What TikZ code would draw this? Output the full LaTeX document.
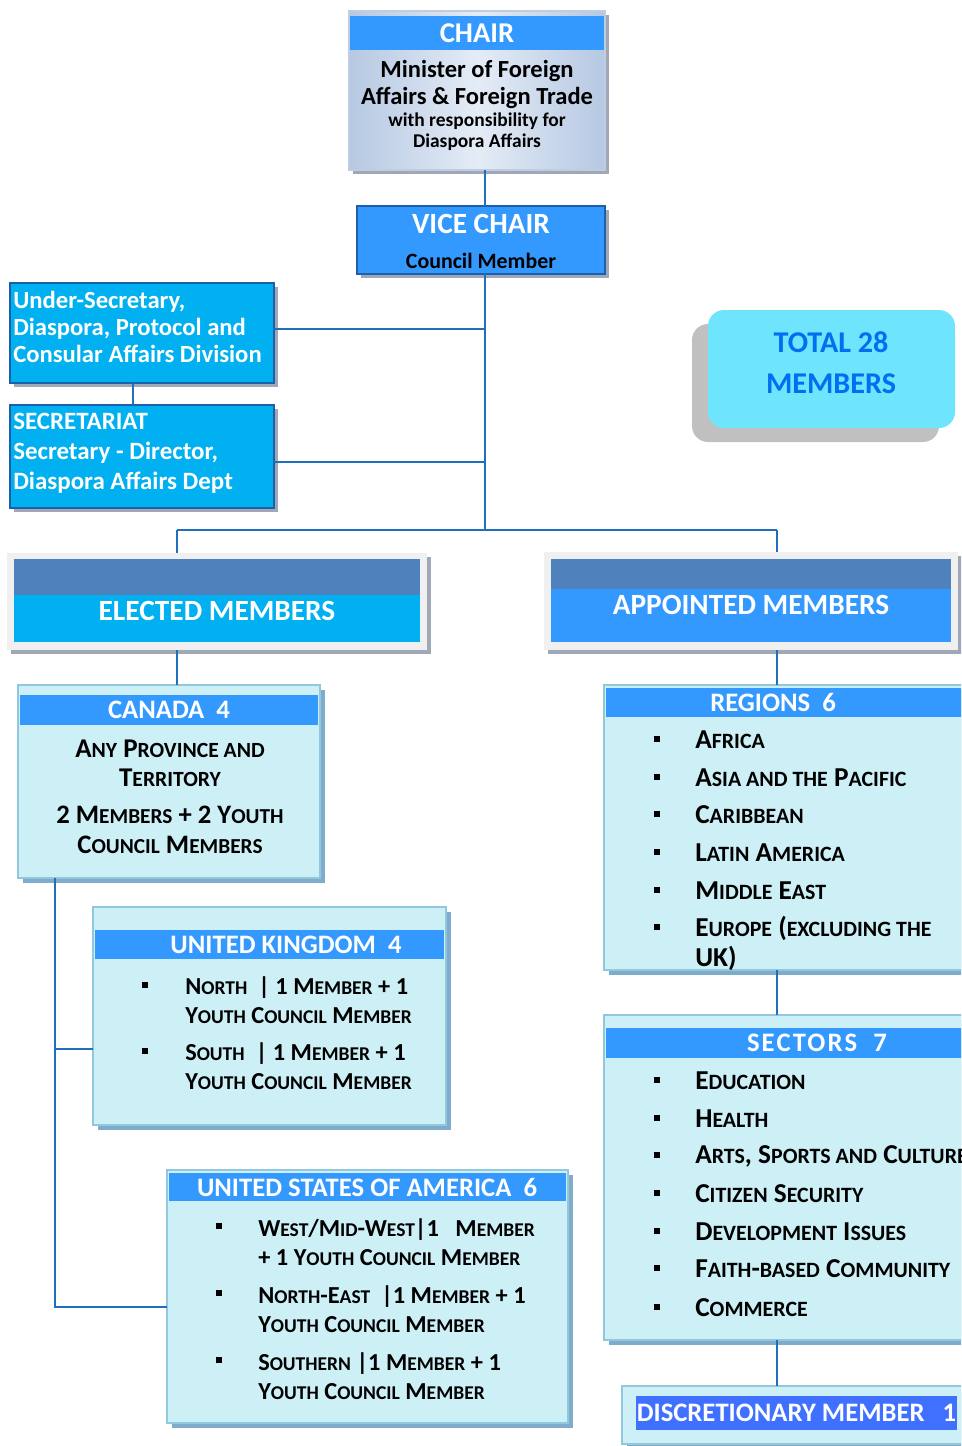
\documentclass[tikz,border=0pt]{standalone}
\usepackage{fontspec}
\setmainfont{Carlito}
\usepackage{xcolor}
\definecolor{headblue}{RGB}{51,153,255}
\definecolor{skyblue}{RGB}{0,176,240}
\definecolor{paleblue}{RGB}{205,240,247}
\definecolor{paleedge}{RGB}{146,200,222}
\definecolor{paleshadow}{RGB}{128,172,204}
\definecolor{steelband}{RGB}{79,129,189}
\definecolor{linkblue}{RGB}{31,111,191}
\definecolor{darkedge}{RGB}{30,95,170}
\definecolor{boxshadow}{RGB}{160,168,184}
\definecolor{totalfill}{RGB}{111,228,253}
\definecolor{totaltext}{RGB}{0,112,240}
\definecolor{totalshadow}{RGB}{192,192,192}
\definecolor{discblue}{RGB}{64,112,255}
\definecolor{chairlight}{RGB}{228,236,246}
\definecolor{chairdark}{RGB}{182,200,226}
\definecolor{chairedge}{RGB}{190,205,225}
\definecolor{framegray}{RGB}{240,240,240}
\usepackage{tikz}
\usetikzlibrary{shadows}
\makeatletter
\newcommand{\lowcap}[1]{{\fontsize{\dimexpr 0.8\dimexpr\f@size pt\relax\relax}{\f@baselineskip}\selectfont #1}}
\makeatother
\newcommand{\boxfont}[2]{\fontsize{#1}{#2}\selectfont\bfseries}
\newcommand{\pix}[1]{#1*0.75pt}
\tikzset{
    common/.style={anchor=north west, inner sep=0pt, outer sep=0pt},
    box-shadow/.style={drop shadow={shadow xshift=3pt, shadow yshift=-3pt, fill=boxshadow, opacity=1}},
    dark-box/.style={common, fill=#1, draw=darkedge, line width=1.5pt, box-shadow},
    pale-box/.style={common, fill=paleblue, draw=paleedge, line width=1.5pt,
        drop shadow={shadow xshift=3.5pt, shadow yshift=-3.5pt, fill=paleshadow, opacity=1}},
    band/.style={common, fill=#1},
    head/.style={text=white, inner sep=0pt, font=\boxfont{20pt}{24pt}},
    item/.style={anchor=west, align=left, inner sep=0pt, font=\boxfont{20.5pt}{22.5pt}},
    entry/.style={item, font=\boxfont{18.3pt}{21.75pt}},
    bullet/.style={fill=black, inner sep=0pt, minimum size=4.5pt},
    link/.style={draw=linkblue, line width=1.5pt}
}

\begin{document}
\begin{tikzpicture}[x=0.75pt, y=-0.75pt]
    \useasboundingbox (0,0) rectangle (961,1446);
    \clip (0,0) rectangle (961,1446);

    % chair
    \node[common, minimum width={\pix{256}}, minimum height={\pix{159}}, left color=chairdark, right color=chairdark,
        middle color=chairlight, draw=chairedge, line width=1.5pt, box-shadow] (chair) at (349,11) {};
    \node[band=headblue, minimum width={\pix{254}}, minimum height={\pix{34}}] (chair-band) at (350,16) {};
    \node[head, font=\boxfont{21.5pt}{24pt}] (chair-title) at (chair-band.center) {CHAIR};
    \node[align=center, inner sep=0pt, font=\boxfont{18.4pt}{20.25pt}] (chair-name) at (477,84) {Minister of Foreign\\Affairs \& Foreign Trade};
    \node[align=center, inner sep=0pt, font=\boxfont{14.6pt}{15.75pt}] (chair-note) at (477,132) {with responsibility for\\Diaspora Affairs};

    % vice chair
    \node[dark-box=headblue, minimum width={\pix{248}}, minimum height={\pix{68}}] (vice) at (357,206) {};
    \node[head, font=\boxfont{22pt}{24pt}] (vice-title) at (481,224) {VICE CHAIR};
    \node[inner sep=0pt, font=\boxfont{16.4pt}{18pt}] (vice-name) at (481,261) {Council Member};

    % under-secretary and secretariat
    \node[dark-box=skyblue, minimum width={\pix{264}}, minimum height={\pix{100}}] (usec) at (10,283) {};
    \node[item, text=white, font=\boxfont{18.5pt}{20.25pt}] (usec-text) at (13,327) {Under-Secretary,\\Diaspora, Protocol and\\Consular Affairs Division};
    \node[dark-box=skyblue, minimum width={\pix{264}}, minimum height={\pix{103}}] (secr) at (10,405) {};
    \node[item, text=white, font=\boxfont{18.7pt}{22.5pt}] (secr-text) at (13,453) {SECRETARIAT\\Secretary - Director,\\Diaspora Affairs Dept};

    % total
    \node[common, minimum width={\pix{247}}, minimum height={\pix{118}}, rounded corners=12pt, fill=totalfill,
        drop shadow={shadow xshift=-12pt, shadow yshift=-10.5pt, fill=totalshadow, opacity=1}] (total) at (708,310) {};
    \node[align=center, inner sep=0pt, text=totaltext, font=\boxfont{22.6pt}{30.75pt}] (total-text) at (831,363) {TOTAL 28\\MEMBERS};

    % elected and appointed
    \node[common, fill=framegray, minimum width={\pix{420}}, minimum height={\pix{97}}, box-shadow] (elected) at (7,553) {};
    \node[band=steelband, minimum width={\pix{406}}, minimum height={\pix{36}}] (elected-top) at (14,559) {};
    \node[band=skyblue, minimum width={\pix{406}}, minimum height={\pix{47}}] (elected-low) at (14,595) {};
    \node[head, font=\boxfont{22pt}{24pt}] (elected-title) at (217,611) {ELECTED MEMBERS};
    \node[common, fill=framegray, minimum width={\pix{414}}, minimum height={\pix{98}}, box-shadow] (appointed) at (544,552) {};
    \node[band=steelband, minimum width={\pix{400}}, minimum height={\pix{30}}] (appointed-top) at (551,559) {};
    \node[band=headblue, minimum width={\pix{400}}, minimum height={\pix{53}}] (appointed-low) at (551,589) {};
    \node[head, font=\boxfont{22pt}{24pt}] (appointed-title) at (751,605) {APPOINTED MEMBERS};

    % canada
    \node[pale-box, minimum width={\pix{302}}, minimum height={\pix{193}}] (canada) at (18,685) {};
    \node[band=headblue, minimum width={\pix{298}}, minimum height={\pix{30}}] (canada-band) at (20,695) {};
    \node[head] (canada-title) at (169,710) {CANADA\ \ 4};
    \node[align=center, inner sep=0pt, font=\boxfont{20.3pt}{21.75pt}] (canada-area) at (170,763) {A\lowcap{NY} P\lowcap{ROVINCE AND}\\T\lowcap{ERRITORY}};
    \node[align=center, inner sep=0pt, font=\boxfont{20pt}{22.5pt}] (canada-count) at (170,830) {2 M\lowcap{EMBERS} + 2 Y\lowcap{OUTH}\\C\lowcap{OUNCIL} M\lowcap{EMBERS}};

    % united kingdom
    \node[pale-box, minimum width={\pix{353}}, minimum height={\pix{218}}] (uk) at (93,907) {};
    \node[band=headblue, minimum width={\pix{349}}, minimum height={\pix{29}}] (uk-band) at (95,930) {};
    \node[head] (uk-title) at (286,945) {UNITED KINGDOM\ \ 4};
    \path (145,985) node[bullet] (north-dot) {}
          (185,1000) node[entry] (north) {N\lowcap{ORTH}\ \ | 1 M\lowcap{EMBER} + 1\\Y\lowcap{OUTH} C\lowcap{OUNCIL} M\lowcap{EMBER}}
          (145,1051) node[bullet] (south-dot) {}
          (185,1066) node[entry] (south) {S\lowcap{OUTH}\ \ | 1 M\lowcap{EMBER} + 1\\Y\lowcap{OUTH} C\lowcap{OUNCIL} M\lowcap{EMBER}};

    % united states
    \node[pale-box, minimum width={\pix{401}}, minimum height={\pix{253}}] (usa) at (167,1170) {};
    \node[band=headblue, minimum width={\pix{397}}, minimum height={\pix{28}}] (usa-band) at (169,1173) {};
    \node[head] (usa-title) at (367,1187) {UNITED STATES OF AMERICA\ \ 6};
    \path (219,1226) node[bullet] (west-dot) {}
          (258,1242) node[entry] (west) {W\lowcap{EST}/M\lowcap{ID}-W\lowcap{EST}|1\ \ \ M\lowcap{EMBER}\\+ 1 Y\lowcap{OUTH} C\lowcap{OUNCIL} M\lowcap{EMBER}}
          (219,1293) node[bullet] (east-dot) {}
          (258,1309) node[entry] (east) {N\lowcap{ORTH}-E\lowcap{AST}\ \ |1 M\lowcap{EMBER} + 1\\Y\lowcap{OUTH} C\lowcap{OUNCIL} M\lowcap{EMBER}}
          (219,1360) node[bullet] (southern-dot) {}
          (258,1376) node[entry] (southern) {S\lowcap{OUTHERN} |1 M\lowcap{EMBER} + 1\\Y\lowcap{OUTH} C\lowcap{OUNCIL} M\lowcap{EMBER}};

    % regions
    \node[pale-box, minimum width={\pix{380}}, minimum height={\pix{285}}] (regions) at (604,685) {};
    \node[band=headblue, minimum width={\pix{380}}, minimum height={\pix{29}}] (regions-band) at (606,688) {};
    \node[head] (regions-title) at (773,702) {REGIONS\ \ 6};
    \path (657,739) node[bullet] (africa-dot) {} +(38,1) node[item] (africa) {A\lowcap{FRICA}}
          (657,777) node[bullet] (asia-dot) {} +(38,1) node[item] (asia) {A\lowcap{SIA AND THE} P\lowcap{ACIFIC}}
          (657,814) node[bullet] (caribbean-dot) {} +(38,1) node[item] (caribbean) {C\lowcap{ARIBBEAN}}
          (657,852) node[bullet] (latin-dot) {} +(38,1) node[item] (latin) {L\lowcap{ATIN} A\lowcap{MERICA}}
          (657,890) node[bullet] (mideast-dot) {} +(38,1) node[item] (mideast) {M\lowcap{IDDLE} E\lowcap{AST}}
          (657,927) node[bullet] (europe-dot) {} +(38,16) node[item] (europe) {E\lowcap{UROPE} (\lowcap{EXCLUDING THE}\\UK)};

    % sectors
    \node[pale-box, minimum width={\pix{380}}, minimum height={\pix{325}}] (sectors) at (604,1015) {};
    \node[band=headblue, minimum width={\pix{380}}, minimum height={\pix{30}}] (sectors-band) at (606,1028) {};
    \node[head, font=\boxfont{20pt}{24pt}\addfontfeature{LetterSpace=8}] (sectors-title) at (817,1043) {SECTORS\ \ 7};
    \path (657,1080) node[bullet] (education-dot) {} +(38,1) node[item] (education) {E\lowcap{DUCATION}}
          (657,1118) node[bullet] (health-dot) {} +(38,1) node[item] (health) {H\lowcap{EALTH}}
          (657,1155) node[bullet] (arts-dot) {} +(38,1) node[item] (arts) {A\lowcap{RTS}, S\lowcap{PORTS AND} C\lowcap{ULTURE}}
          (657,1193) node[bullet] (security-dot) {} +(38,1) node[item] (security) {C\lowcap{ITIZEN} S\lowcap{ECURITY}}
          (657,1231) node[bullet] (development-dot) {} +(38,1) node[item] (development) {D\lowcap{EVELOPMENT} I\lowcap{SSUES}}
          (657,1268) node[bullet] (faith-dot) {} +(38,1) node[item] (faith) {F\lowcap{AITH}-\lowcap{BASED} C\lowcap{OMMUNITY}}
          (657,1307) node[bullet] (commerce-dot) {} +(38,1) node[item] (commerce) {C\lowcap{OMMERCE}};

    % discretionary
    \node[pale-box, minimum width={\pix{360}}, minimum height={\pix{58}}] (disc) at (622,1386) {};
    \node[band=discblue, minimum width={\pix{321}}, minimum height={\pix{34}}] (disc-band) at (636,1396) {};
    \node[head] (disc-title) at (disc-band.center) {DISCRETIONARY MEMBER\ \ \ 1};

    % links
    \coordinate (spine) at (485,530);
    \coordinate (left-drop) at (177,530);
    \coordinate (right-drop) at (777,530);
    \coordinate (usec-link) at (485,329);
    \coordinate (secr-link) at (485,462);
    \coordinate (usec-joint) at (133,383);
    \coordinate (uk-joint) at (55,1049);
    \coordinate (usa-joint) at (55,1307);

    \draw[link] (chair.south -| spine) -- (vice.north -| spine);
    \draw[link] (vice.south -| spine) -- (spine);
    \draw[link] (usec.east |- usec-link) -- (usec-link);
    \draw[link] (secr.east |- secr-link) -- (secr-link);
    \draw[link] (usec-joint) -- (usec-joint |- secr.north);
    \draw[link] (left-drop) -- (right-drop);
    \draw[link] (left-drop) -- (left-drop |- elected.north);
    \draw[link] (right-drop) -- (right-drop |- appointed.north);
    \draw[link] (left-drop |- elected.south) -- (left-drop |- canada.north);
    \draw[link] (right-drop |- appointed.south) -- (right-drop |- regions.north);
    \draw[link] (right-drop |- regions.south) -- (right-drop |- sectors.north);
    \draw[link] (right-drop |- sectors.south) -- (right-drop |- disc.north);
    \draw[link] (canada.south -| usa-joint) -- (usa-joint) -- (usa-joint -| usa.west);
    \draw[link] (uk-joint) -- (uk-joint -| uk.west);
\end{tikzpicture}
\end{document}
